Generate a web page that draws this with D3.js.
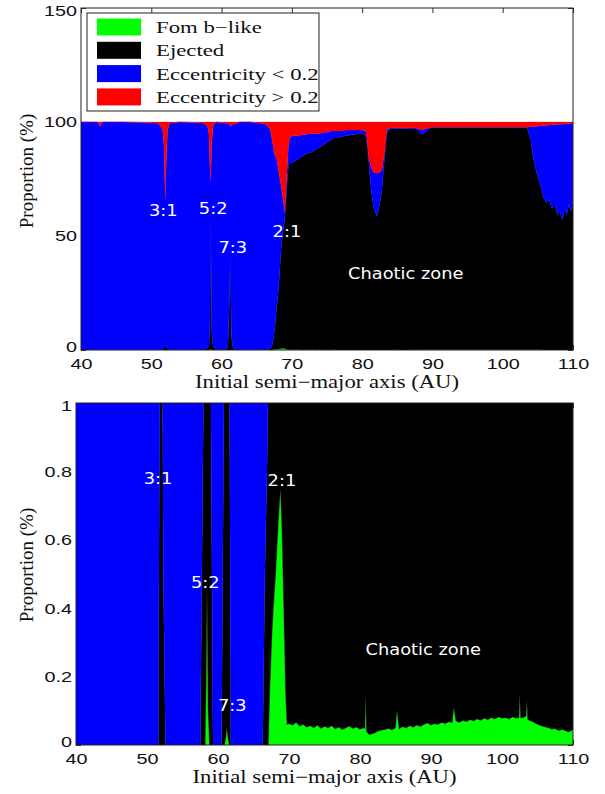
<!DOCTYPE html>
<html>
<head>
<meta charset="utf-8">
<script src="https://cdn.jsdelivr.net/npm/d3@7"></script>
<style>
body { margin: 0; background: #fff; }
</style>
</head>
<body>
<div id="chart"></div>
<script>
// Initial semi-major axis (AU)
var semiMajor = [
  40, 42.4, 42.7, 43, 46, 49, 51, 51.6, 51.8, 52,
  52.1, 52.3, 52.6, 54, 56, 57.5, 58, 58.2, 58.35, 58.45,
  58.6, 58.8, 59, 59.3, 60.5, 60.9, 61.1, 61.25, 61.4, 61.6,
  61.8, 62.5, 64, 65.5, 66.3, 66.6, 66.9, 67.1, 67.3, 67.6,
  67.8, 68.1, 68.5, 68.8, 69, 69.3, 69.5, 69.7,
  70, 70.5, 71, 71.5, 72, 72.5, 73, 73.5, 74, 74.5,
  75, 75.5, 76, 76.5, 77, 77.5, 78, 78.5, 79, 79.5,
  80, 80.5, 80.7, 80.8, 80.9, 81.3, 81.6, 82.1, 82.5, 82.8,
  83.2, 83.5, 84, 84.5, 85, 85.2, 85.5, 86, 86.5, 87,
  87.5, 88, 88.5, 89, 89.5,
  90, 90.5, 91, 91.5, 92, 92.5, 93, 93.2, 93.5, 94,
  94.5, 95, 95.5, 96, 96.5, 97, 97.5, 98, 98.5, 99,
  99.5, 100, 100.5, 101, 101.5, 102, 102.4, 102.5, 102.6, 103,
  103.4, 103.5, 103.6, 104, 104.3, 104.8, 105.3, 105.8, 106.2, 106.6,
  107, 107.4, 107.8, 108.1, 108.5, 108.8, 109.1, 109.4, 109.7, 110
];

// proportions (%) per outcome
var fomB = [
  0, 0, 0, 0, 0, 0, 0, 0, 0, 0,
  0, 0, 0, 0, 0, 0, 0, 0, 0.2, 0.46,
  0.1, 0, 0, 0, 0, 0, 0.02, 0.05, 0.02, 0,
  0, 0, 0, 0, 0, 0, 0, 0, 0.16, 0.32,
  0.4, 0.49, 0.65, 0.75, 0.63, 0.36, 0.16, 0.06,
  0.062, 0.058, 0.066, 0.055, 0.06, 0.052, 0.056, 0.05, 0.058, 0.048,
  0.054, 0.05, 0.056, 0.047, 0.052, 0.045, 0.05, 0.055, 0.048, 0.052,
  0.046, 0.05, 0.048, 0.15, 0.04, 0.03, 0.032, 0.035, 0.04, 0.042,
  0.044, 0.045, 0.048, 0.044, 0.05, 0.1, 0.047, 0.053, 0.05, 0.056,
  0.052, 0.058, 0.054, 0.06, 0.064,
  0.058, 0.062, 0.06, 0.066, 0.062, 0.068, 0.065, 0.11, 0.07, 0.066,
  0.072, 0.068, 0.074, 0.07, 0.076, 0.072, 0.078, 0.074, 0.08, 0.076,
  0.082, 0.078, 0.08, 0.076, 0.082, 0.078, 0.08, 0.15, 0.08, 0.08,
  0.085, 0.13, 0.075, 0.07, 0.068, 0.062, 0.058, 0.054, 0.052, 0.05,
  0.046, 0.048, 0.044, 0.042, 0.045, 0.043, 0.04, 0.038, 0.041, 0.045
];

var ejected = [
  0, 0, 0, 0, 0, 0, 0, 0, 1.2, 2,
  1.5, 0.5, 0, 0, 0, 0, 1.1, 1.5, 12, 58,
  8, 1.5, 1, 0, 0, 1.2, 20, 41, 6, 1.2,
  0, 0, 0, 0, 0, 0.5, 0.8, 1.1, 3, 10,
  17, 26, 45, 53, 57.4, 72, 80, 82,
  81.938, 82.942, 83.934, 84.945, 85.94, 86.448, 86.944, 87.95, 88.942, 89.952,
  90.946, 91.95, 92.944, 92.953, 93.448, 93.955, 93.95, 94.445, 94.452, 94.948,
  94.954, 93.95, 89.952, 87.85, 83.96, 69.97, 62.968, 58.465, 63.96, 69.958,
  84.756, 94.955, 96.952, 97.156, 97.15, 97.1, 97.153, 97.147, 97.15, 97.144,
  96.948, 95.942, 94.446, 95.44, 96.936,
  97.442, 97.438, 97.44, 97.434, 97.438, 97.432, 97.435, 97.39, 97.43, 97.434,
  97.428, 97.432, 97.426, 97.43, 97.424, 97.428, 97.422, 97.426, 97.42, 97.424,
  97.418, 97.422, 97.42, 97.424, 97.418, 97.422, 97.42, 97.35, 97.42, 97.42,
  97.415, 97.37, 95.925, 91.93, 84.932, 77.938, 72.942, 66.946, 64.448, 65.95,
  61.954, 63.952, 58.956, 60.958, 56.955, 61.957, 58.96, 63.962, 60.959, 64.955
];

var eccLow = [
  100, 100, 98, 100, 100, 99.8, 99.5, 97, 88.8, 64,
  78.5, 95.5, 99.5, 100, 99.8, 99.5, 96.9, 93.5, 67.8, 15.54,
  82.9, 96.5, 98.5, 100, 99.5, 98.3, 78.98, 56.95, 92.48, 98.3,
  99, 100, 100, 99.5, 99, 97.5, 96.2, 92.9, 86.84, 74.68,
  67.4, 52.51, 25.95, 11.25, 1.97, 5.64, 8.84, 10.94,
  12, 11, 10, 9.5, 8.5, 8.5, 8, 7, 6, 5.5,
  4.5, 4, 3, 3, 2.5, 2.5, 2.5, 2, 2, 1.5,
  1.5, 2, 2, 1, 1, 10, 15, 19, 14, 9,
  2.2, 1.5, 0.5, 0.3, 0.3, 0.3, 0.3, 0.3, 0.3, 0.3,
  0.5, 1, 2, 1.5, 0.5,
  0.2, 0.2, 0.2, 0.2, 0.2, 0.2, 0.2, 0.2, 0.2, 0.2,
  0.2, 0.2, 0.2, 0.2, 0.2, 0.2, 0.2, 0.2, 0.2, 0.2,
  0.2, 0.2, 0.2, 0.2, 0.2, 0.2, 0.2, 0.2, 0.2, 0.2,
  0.2, 0.2, 1.7, 6, 13, 20, 25.5, 31.5, 34, 32.7,
  36.8, 34.8, 40, 38, 42, 37.1, 40.2, 35.3, 38.4, 34.5
];

var eccHigh = [
  0, 0, 2, 0, 0, 0.2, 0.5, 3, 10, 34,
  20, 4, 0.5, 0, 0.2, 0.5, 2, 5, 20, 26,
  9, 2, 0.5, 0, 0.5, 0.5, 1, 2, 1.5, 0.5,
  1, 0, 0, 0.5, 1, 2, 3, 6, 10, 15,
  15.2, 21, 28.4, 35, 40, 22, 11, 7,
  6, 6, 6, 5.5, 5.5, 5, 5, 5, 5, 4.5,
  4.5, 4, 4, 4, 4, 3.5, 3.5, 3.5, 3.5, 3.5,
  3.5, 4, 8, 11, 15, 20, 22, 22.5, 22, 21,
  13, 3.5, 2.5, 2.5, 2.5, 2.5, 2.5, 2.5, 2.5, 2.5,
  2.5, 3, 3.5, 3, 2.5,
  2.3, 2.3, 2.3, 2.3, 2.3, 2.3, 2.3, 2.3, 2.3, 2.3,
  2.3, 2.3, 2.3, 2.3, 2.3, 2.3, 2.3, 2.3, 2.3, 2.3,
  2.3, 2.3, 2.3, 2.3, 2.3, 2.3, 2.3, 2.3, 2.3, 2.3,
  2.3, 2.3, 2.3, 2, 2, 2, 1.5, 1.5, 1.5, 1.3,
  1.2, 1.2, 1, 1, 1, 0.9, 0.8, 0.7, 0.6, 0.5
];

var xTicks = [40, 50, 60, 70, 80, 90, 100, 110];
var topYTicks = [0, 50, 100, 150];
var bottomYTicks = [0, 0.2, 0.4, 0.6, 0.8, 1];

var legendLabels = ["Fom b\u2212like", "Ejected", "Eccentricity < 0.2", "Eccentricity > 0.2"];
var keys = ["fomB", "ejected", "eccLow", "eccHigh"];
var colours = ["#00ff00", "#000000", "#0000ff", "#ff0000"];

// annotation labels: [text, a, proportion]
var topNotes = [["3:1", 51.7, 58.8], ["5:2", 58.8, 59.6], ["7:3", 61.6, 42.5], ["2:1", 69.3, 49.6], ["Chaotic zone", 86.2, 31.1]];
var bottomNotes = [["3:1", 51.55, 0.763], ["5:2", 58.2, 0.459], ["7:3", 62.0, 0.099], ["2:1", 69.0, 0.757], ["Chaotic zone", 88.9, 0.263]];

var rows = semiMajor.map(function(a, i) {
  return {a: a, fomB: fomB[i], ejected: ejected[i], eccLow: eccLow[i], eccHigh: eccHigh[i]};
});
var layers = d3.stack().keys(keys)(rows);

var svg = d3.select("#chart").append("svg")
    .attr("width", 605)
    .attr("height", 794);

var sansFont = "'Liberation Sans', Arial, sans-serif",
    serifFont = "'Liberation Serif', 'Times New Roman', serif",
    noteFont = "'DejaVu Sans', sans-serif";

function drawPanel(p) {
  var x = d3.scaleLinear().domain([40, 110]).range([p.left, p.right]);
  var y = d3.scaleLinear().domain([0, p.yMax]).range([p.bottom, p.top]);
  var w = p.right - p.left, h = p.bottom - p.top;

  var g = svg.append("g").attr("class", "panel");

  g.append("clipPath").attr("id", p.id + "-clip")
    .append("rect").attr("x", p.left).attr("y", p.top).attr("width", w).attr("height", h);

  // inward ticks first, so the filled areas hide them
  var xAxis = g.append("g")
      .attr("transform", "translate(0," + p.bottom + ")")
      .call(d3.axisBottom(x).tickValues(xTicks).tickSizeInner(-5).tickSizeOuter(0).tickPadding(8));
  g.append("g")
      .attr("transform", "translate(0," + p.top + ")")
      .call(d3.axisTop(x).tickValues(xTicks).tickSizeInner(-5).tickSizeOuter(0).tickFormat(""));
  var yAxis = g.append("g")
      .attr("transform", "translate(" + p.left + ",0)")
      .call(d3.axisLeft(y).tickValues(p.yTicks).tickSizeInner(-5).tickSizeOuter(0).tickPadding(3)
        .tickFormat(d3.format("~g")));
  g.append("g")
      .attr("transform", "translate(" + p.right + ",0)")
      .call(d3.axisRight(y).tickValues(p.yTicks).tickSizeInner(-5).tickSizeOuter(0).tickFormat(""));

  g.selectAll(".domain").remove();
  g.selectAll(".tick line").attr("stroke", "#333");
  [xAxis, yAxis].forEach(function(ax) {
    ax.attr("font-family", sansFont).attr("font-size", 15);
    ax.selectAll("text").attr("fill", "#111").attr("transform", "scale(1.32,1)");
  });
  // lowest label sits a little high, the top one a little low
  yAxis.selectAll("text").attr("dy", function(d) {
    return d === 0 ? "0.1em" : (d === p.yMax ? "0.5em" : "0.32em");
  });

  var area = d3.area()
      .x(function(d) { return x(d.data.a); })
      .y0(function(d) { return y(d[0]); })
      .y1(function(d) { return y(d[1]); });

  g.append("g").attr("clip-path", "url(#" + p.id + "-clip)")
    .selectAll("path.layer")
    .data(layers).enter().append("path")
      .attr("class", "layer")
      .attr("d", area)
      .attr("fill", function(d, i) { return colours[i]; })
      .attr("stroke", function(d, i) { return colours[i]; })
      .attr("stroke-width", 0.3);

  // frame
  g.append("rect")
    .attr("x", p.left).attr("y", p.top).attr("width", w).attr("height", h)
    .attr("fill", "none").attr("stroke", "#222").attr("stroke-width", 1);

  // annotations
  g.selectAll("text.note")
    .data(p.notes).enter().append("text")
      .attr("class", "note")
      .attr("transform", function(d) { return "translate(" + x(d[1]) + "," + y(d[2]) + ") scale(1.15,1)"; })
      .attr("text-anchor", "middle")
      .attr("font-family", noteFont)
      .attr("font-size", 15.5)
      .attr("fill", "#fff")
      .text(function(d) { return d[0]; });

  // axis titles
  g.append("text")
    .attr("transform", "translate(" + ((p.left + p.right) / 2) + "," + (p.bottom + 38) + ") scale(1.26,1)")
    .attr("text-anchor", "middle")
    .attr("font-family", serifFont)
    .attr("font-size", 18)
    .attr("fill", "#111")
    .text("Initial semi\u2212major axis (AU)");

  g.append("text")
    .attr("transform", "translate(33," + p.labelY + ") rotate(-90)")
    .attr("text-anchor", "middle")
    .attr("font-family", serifFont)
    .attr("font-size", 19)
    .attr("fill", "#111")
    .text("Proportion (%)");

  return g;
}

var topPanel = drawPanel({id: "top", left: 81, right: 573, top: 8, bottom: 350, yMax: 150,
  yTicks: topYTicks, notes: topNotes, labelY: 171});
drawPanel({id: "bottom", left: 76, right: 573, top: 403, bottom: 745, yMax: 1,
  yTicks: bottomYTicks, notes: bottomNotes, labelY: 565});

// legend in the top panel
var legend = topPanel.append("g").attr("class", "legend");
legend.append("rect")
  .attr("x", 87).attr("y", 13).attr("width", 232).attr("height", 98)
  .attr("fill", "#fff").attr("stroke", "#222").attr("stroke-width", 1);
var item = legend.selectAll("g.item")
  .data(legendLabels).enter().append("g")
  .attr("class", "item")
  .attr("transform", function(d, i) { return "translate(0," + (27 + i * 23.3) + ")"; });
item.append("rect")
  .attr("x", 97).attr("y", -8.5).attr("width", 44).attr("height", 17)
  .attr("fill", function(d, i) { return colours[i]; });
item.append("text")
  .attr("transform", "translate(156,6) scale(1.34,1)")
  .attr("font-family", serifFont)
  .attr("font-size", 17)
  .attr("fill", "#111")
  .text(function(d) { return d; });
</script>
</body>
</html>
